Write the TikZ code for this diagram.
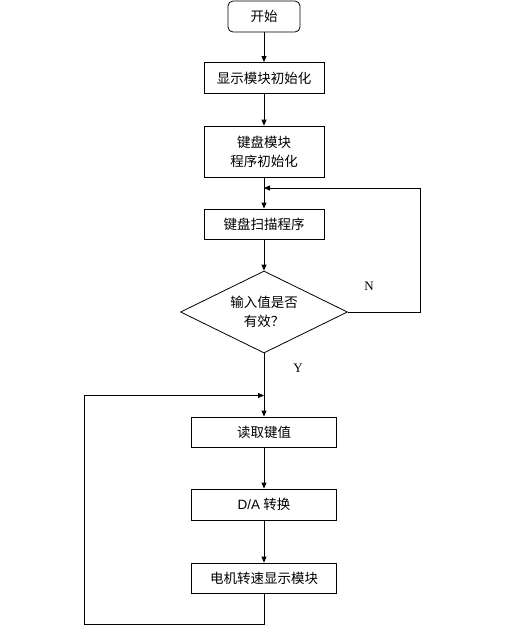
\documentclass[tikz,border=0pt]{standalone}
\usepackage{fontspec}
\setmainfont{Noto Sans CJK SC}
\newfontfamily\latinserif{Liberation Serif}
\newfontfamily\latinsans{Liberation Sans}
\usetikzlibrary{shapes.geometric}
\usetikzlibrary{arrows.meta}

\begin{document}
\begin{tikzpicture}[x=1pt,y=-1pt,line width=0.8pt,
  every node/.style={font=\fontsize{13.5}{19}\selectfont},
  block/.style={draw,rectangle,minimum width=120pt,minimum height=31pt,inner sep=0pt,align=center},
  wideblock/.style={block,minimum width=145pt},
  startbox/.style={draw,rounded corners=5pt,minimum width=72pt,minimum height=31pt,inner sep=0pt},
  decision/.style={draw,diamond,aspect=2,minimum width=167pt,minimum height=82pt,inner sep=0pt,align=center},
  flow/.style={-{Triangle[length=6pt,width=5pt]}},
  yn/.style={font=\latinserif\fontsize{13}{15}\selectfont}]
\useasboundingbox (0,0) rectangle (516,635);

\node[startbox] (start) at (264,16.5) {开始};
\node[block] (disp) at (264,78) {显示模块初始化};
\node[block,minimum height=51pt] (kinit) at (264,151.5) {键盘模块\\程序初始化};
\node[block,minimum height=30pt] (scan) at (264,224) {键盘扫描程序};
\node[decision] (valid) at (264,312) {输入值是否\\有效？};
\node[wideblock,minimum height=30pt] (read) at (264,432) {读取键值};
\node[wideblock] (da) at (264,504.5) {{\latinsans D/A} 转换};
\node[wideblock,minimum height=30pt] (motor) at (264,578) {电机转速显示模块};

\node[yn] (no) at (369,286) {N};
\node[yn] (yes) at (298,368) {Y};

\coordinate (back) at (264,188);
\coordinate (ncorner) at (420,188);
\coordinate (join) at (264,395.5);
\coordinate (lbottom) at (84,624);

\draw[flow] (start) -- (disp);
\draw[flow] (disp) -- (kinit);
\draw[flow] (kinit) -- (scan);
\draw[flow] (scan) -- (valid);
\draw[flow] (valid) -- (read);
\draw[flow] (read) -- (da);
\draw[flow] (da) -- (motor);
\draw[flow] (valid.east) -| (ncorner) -- (back);
\draw[flow] (motor.south) |- (lbottom) |- (join);

%%\draw [dashed] (264,0) -- (264,635);
\end{tikzpicture}
\end{document}
